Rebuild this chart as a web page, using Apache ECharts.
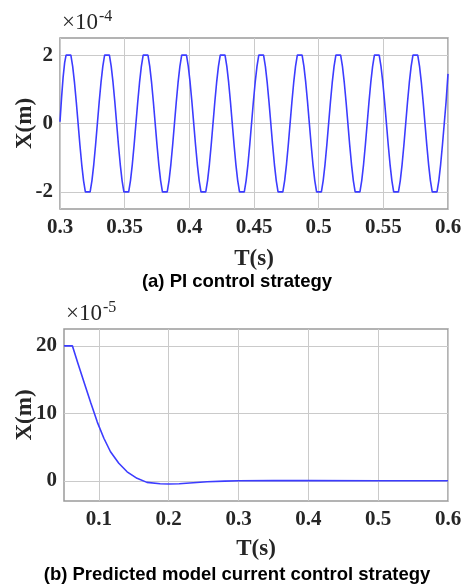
<!DOCTYPE html>
<html>
<head>
<meta charset="utf-8">
<script src="https://cdn.jsdelivr.net/npm/echarts@6/dist/echarts.min.js"></script>
<style>
	html, body { margin: 0; padding: 0; background: #fff; }
	#main { width: 463px; height: 585px; }
</style>
</head>
<body>
<div id="main"></div>
<script>
// (a) PI control - time (s) and displacement (x1e-4 m)
var tA = [
	0.3000, 0.3012, 0.3024, 0.3036, 0.3047,
	0.3084, 0.3098, 0.3112, 0.3126, 0.3140, 0.3154, 0.3168, 0.3182, 0.3196, 0.3233, 0.3247, 0.3261, 0.3275, 0.3289, 0.3303, 0.3317, 0.3331, 0.3345,
	0.3382, 0.3396, 0.3410, 0.3424, 0.3438, 0.3452, 0.3466, 0.3480, 0.3494, 0.3531, 0.3545, 0.3559, 0.3573, 0.3587, 0.3601, 0.3615, 0.3629, 0.3643,
	0.3680, 0.3694, 0.3708, 0.3722, 0.3736, 0.3750, 0.3764, 0.3778, 0.3792, 0.3829, 0.3843, 0.3857, 0.3871, 0.3885, 0.3899, 0.3913, 0.3927, 0.3941,
	0.3978, 0.3992, 0.4006, 0.4020, 0.4034, 0.4048, 0.4062, 0.4076, 0.4090, 0.4127, 0.4141, 0.4155, 0.4169, 0.4183, 0.4197, 0.4211, 0.4225, 0.4239,
	0.4276, 0.4290, 0.4304, 0.4318, 0.4332, 0.4346, 0.4360, 0.4374, 0.4388, 0.4425, 0.4439, 0.4453, 0.4467, 0.4481, 0.4495, 0.4509, 0.4523, 0.4537,
	0.4574, 0.4588, 0.4602, 0.4616, 0.4630, 0.4644, 0.4658, 0.4672, 0.4686, 0.4723, 0.4737, 0.4751, 0.4765, 0.4779, 0.4793, 0.4807, 0.4821, 0.4835,
	0.4872, 0.4886, 0.4900, 0.4914, 0.4928, 0.4942, 0.4956, 0.4970, 0.4984, 0.5021, 0.5035, 0.5049, 0.5063, 0.5077, 0.5091, 0.5105, 0.5119, 0.5133,
	0.5170, 0.5184, 0.5198, 0.5212, 0.5226, 0.5240, 0.5254, 0.5268, 0.5282, 0.5319, 0.5333, 0.5347, 0.5361, 0.5375, 0.5389, 0.5403, 0.5417, 0.5431,
	0.5468, 0.5482, 0.5496, 0.5510, 0.5524, 0.5538, 0.5552, 0.5566, 0.5580, 0.5617, 0.5631, 0.5645, 0.5659, 0.5673, 0.5687, 0.5701, 0.5715, 0.5729,
	0.5766, 0.5780, 0.5794, 0.5808, 0.5822, 0.5836, 0.5850, 0.5864, 0.5878, 0.5915, 0.5929, 0.5943, 0.5957, 0.5971, 0.5985, 0.6000
];
var xA = [
	0.05, 0.75, 1.35, 1.78, 2,
	2, 1.67, 1.2, 0.63, 0, -0.63, -1.2, -1.67, -2, -2, -1.67, -1.2, -0.63, 0, 0.63, 1.2, 1.67, 2,
	2, 1.67, 1.2, 0.63, 0, -0.63, -1.2, -1.67, -2, -2, -1.67, -1.2, -0.63, 0, 0.63, 1.2, 1.67, 2,
	2, 1.67, 1.2, 0.63, 0, -0.63, -1.2, -1.67, -2, -2, -1.67, -1.2, -0.63, 0, 0.63, 1.2, 1.67, 2,
	2, 1.67, 1.2, 0.63, 0, -0.63, -1.2, -1.67, -2, -2, -1.67, -1.2, -0.63, 0, 0.63, 1.2, 1.67, 2,
	2, 1.67, 1.2, 0.63, 0, -0.63, -1.2, -1.67, -2, -2, -1.67, -1.2, -0.63, 0, 0.63, 1.2, 1.67, 2,
	2, 1.67, 1.2, 0.63, 0, -0.63, -1.2, -1.67, -2, -2, -1.67, -1.2, -0.63, 0, 0.63, 1.2, 1.67, 2,
	2, 1.67, 1.2, 0.63, 0, -0.63, -1.2, -1.67, -2, -2, -1.67, -1.2, -0.63, 0, 0.63, 1.2, 1.67, 2,
	2, 1.67, 1.2, 0.63, 0, -0.63, -1.2, -1.67, -2, -2, -1.67, -1.2, -0.63, 0, 0.63, 1.2, 1.67, 2,
	2, 1.67, 1.2, 0.63, 0, -0.63, -1.2, -1.67, -2, -2, -1.67, -1.2, -0.63, 0, 0.63, 1.2, 1.67, 2,
	2, 1.67, 1.2, 0.63, 0, -0.63, -1.2, -1.67, -2, -2, -1.67, -1.2, -0.63, 0, 0.63, 1.45
];
var xTicksA = [0.3, 0.35, 0.4, 0.45, 0.5, 0.55, 0.6];
var yTicksA = [-2, 0, 2];

// (b) predicted model current control - time (s) and displacement (x1e-5 m)
var tB = [0.05, 0.062, 0.0693, 0.0787, 0.0882, 0.0977, 0.1071, 0.1166, 0.1285, 0.1404, 0.1546, 0.1688,
	0.1877, 0.200, 0.215, 0.235, 0.255, 0.28, 0.30, 0.35, 0.40, 0.50, 0.60];
var xB = [20, 20, 17.6, 14.6, 11.6, 8.7, 6.3, 4.3, 2.6, 1.33, 0.36, -0.24,
	-0.44, -0.48, -0.45, -0.3, -0.15, -0.05, 0, 0.04, 0.02, 0, 0];
var xTicksB = [0.1, 0.2, 0.3, 0.4, 0.5, 0.6];
var yTicksB = [0, 10, 20];

function zip(t, v) {
	var out = [];
	for(var i = 0; i < t.length; i++) {
		out.push([t[i], v[i]]);
	}
	return out;
}

var serif = 'Liberation Serif';
var txtColor = '#262626';
var gridColor = '#cacaca';
var lineBlue = '#3c3cff';

function xAxisOf(idx, min, max, ticks, gap) {
	return {
		type: 'value', gridIndex: idx, min: min, max: max,
		axisLine: { show: false },
		axisTick: { show: false, customValues: ticks },
		splitLine: { show: true, lineStyle: { color: gridColor, width: 1 } },
		axisLabel: {
			customValues: ticks, margin: 8, color: txtColor,
			fontFamily: serif, fontWeight: 'bold', fontSize: 21,
			formatter: function(v) { return String(+v.toFixed(2)); }
		},
		name: 'T(s)', nameLocation: 'middle', nameGap: gap, nameMoveOverlap: false,
		nameTextStyle: { fontFamily: serif, fontWeight: 'bold', fontSize: 23, color: txtColor }
	};
}

function yAxisOf(idx, min, max, ticks, gap) {
	return {
		type: 'value', gridIndex: idx, min: min, max: max,
		axisLine: { show: false },
		axisTick: { show: false, customValues: ticks },
		splitLine: { show: true, lineStyle: { color: gridColor, width: 1 } },
		axisLabel: {
			customValues: ticks, margin: 7, color: txtColor,
			fontFamily: serif, fontWeight: 'bold', fontSize: 21
		},
		name: 'X(m)', nameLocation: 'middle', nameGap: gap, nameRotate: 90, nameMoveOverlap: false,
		nameTextStyle: { fontFamily: serif, fontWeight: 'bold', fontSize: 23, color: txtColor }
	};
}

var mychart = echarts.init(document.getElementById('main'), null, { renderer: 'canvas' });
var option = {
	animation: false,
	backgroundColor: '#fff',
	grid: [
		{ left: 60, top: 38, width: 388, height: 171, outerBoundsMode: 'none', show: true, borderColor: '#9a9a9a', borderWidth: 1.5, backgroundColor: 'transparent' },
		{ left: 64, top: 329, width: 384, height: 172, outerBoundsMode: 'none', show: true, borderColor: '#9a9a9a', borderWidth: 1.5, backgroundColor: 'transparent' }
	],
	xAxis: [
		xAxisOf(0, 0.3, 0.6, xTicksA, 39),
		xAxisOf(1, 0.05, 0.6, xTicksB, 37)
	],
	yAxis: [
		yAxisOf(0, -2.5, 2.5, yTicksA, 23),
		yAxisOf(1, -3, 22.5, yTicksB, 27)
	],
	series: [{
		type: 'line', xAxisIndex: 0, yAxisIndex: 0,
		data: zip(tA, xA), showSymbol: false,
		lineStyle: { color: lineBlue, width: 1.6 }
	}, {
		type: 'line', xAxisIndex: 1, yAxisIndex: 1,
		data: zip(tB, xB), showSymbol: false,
		lineStyle: { color: lineBlue, width: 1.6 }
	}],
	graphic: [
		{ type: 'text', x: 62, y: 34, style: { text: '×10', font: '23px "Liberation Serif"', fill: txtColor, textVerticalAlign: 'bottom' } },
		{ type: 'text', x: 99, y: 25, style: { text: '-4', font: '16px "Liberation Serif"', fill: txtColor, textVerticalAlign: 'bottom' } },
		{ type: 'text', x: 66, y: 325, style: { text: '×10', font: '23px "Liberation Serif"', fill: txtColor, textVerticalAlign: 'bottom' } },
		{ type: 'text', x: 103, y: 316, style: { text: '-5', font: '16px "Liberation Serif"', fill: txtColor, textVerticalAlign: 'bottom' } },
		{ type: 'text', x: 237, y: 282, style: { text: '(a) PI control strategy', font: 'bold 18.5px "Liberation Sans"', fill: '#000', textAlign: 'center', textVerticalAlign: 'middle' } },
		{ type: 'text', x: 237, y: 575, style: { text: '(b) Predicted model current control strategy', font: 'bold 18.5px "Liberation Sans"', fill: '#000', textAlign: 'center', textVerticalAlign: 'middle' } }
	]
};
mychart.setOption(option);
</script>
</body>
</html>
